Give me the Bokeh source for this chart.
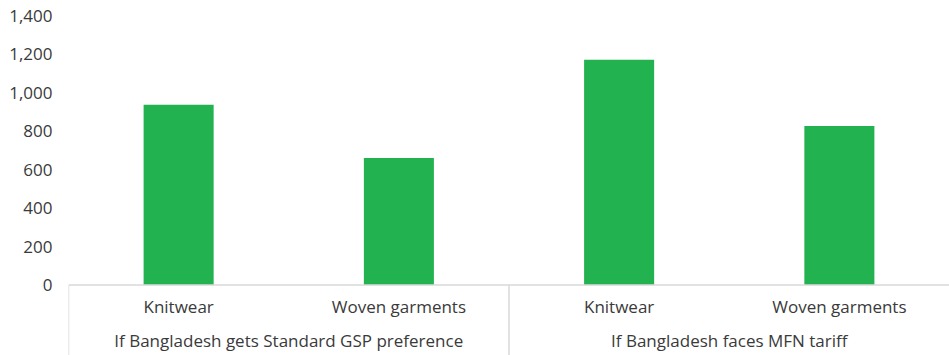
from bokeh.plotting import figure
from bokeh.models import Range1d, LinearAxis, FixedTicker, ColumnDataSource, NumeralTickFormatter
from bokeh.core.properties import value
from bokeh.embed import file_html
from bokeh.resources import INLINE

# Export value by scenario and product
groups = ["If Bangladesh gets Standard GSP preference", "If Bangladesh faces MFN tariff"]
products = ["Knitwear", "Woven garments", "Knitwear", "Woven garments"]
values = [937, 661, 1172, 827]
y_ticks = [0, 200, 400, 600, 800, 1000, 1200, 1400]

FONT = "Open Sans"
TEXT_COLOR = "#3a3a3a"
BAR_COLOR = "#22b24f"
LINE_COLOR = "#d9d9d9"

n_per_group = len(products) // len(groups)
x_pos = [i + 0.5 for i in range(len(products))]
group_pos = [g * n_per_group + n_per_group / 2 for g in range(len(groups))]
bounds = [g * n_per_group for g in range(len(groups))]

y_bottom, y_top = -367, 1480

p = figure(
    width=949, height=355,
    x_range=Range1d(0, len(products)),
    y_range=Range1d(y_bottom, y_top),
    output_backend="svg", toolbar_location=None,
    min_border_left=68, min_border_right=0, min_border_top=0, min_border_bottom=0,
    x_axis_location=None, y_axis_location=None,
)
p.outline_line_color = None
p.xgrid.visible = False
p.ygrid.visible = False
p.background_fill_color = "white"
p.border_fill_color = "white"

yaxis = LinearAxis(
    ticker=FixedTicker(ticks=y_ticks),
    formatter=NumeralTickFormatter(format="0,0"),
)
yaxis.axis_line_color = None
yaxis.major_tick_line_color = None
yaxis.minor_tick_line_color = None
yaxis.major_tick_out = 0
yaxis.major_label_standoff = 16
yaxis.major_label_text_font = FONT
yaxis.major_label_text_font_size = "17px"
yaxis.major_label_text_color = TEXT_COLOR
p.add_layout(yaxis, "left")

src = ColumnDataSource(dict(x=x_pos, top=values, label=products))
p.vbar(x="x", top="top", bottom=0, width=0.318, source=src,
       fill_color=BAR_COLOR, line_color=None)

# category axis line and group dividers
p.segment(x0=[0], y0=[0], x1=[len(products)], y1=[0], line_color=LINE_COLOR, line_width=1.5)
p.segment(x0=bounds, y0=[0] * len(bounds), x1=bounds, y1=[y_bottom] * len(bounds),
          line_color=LINE_COLOR, line_width=1.5)

p.text(x="x", y=-112, text="label", source=src,
       text_font=value(FONT), text_font_size="17px", text_color=TEXT_COLOR,
       text_align="center", text_baseline="middle")
p.text(x=group_pos, y=[-291] * len(groups), text=groups,
       text_font=value(FONT), text_font_size="17px", text_color=TEXT_COLOR,
       text_align="center", text_baseline="middle")

open("out.html", "w").write(file_html(p, INLINE))
